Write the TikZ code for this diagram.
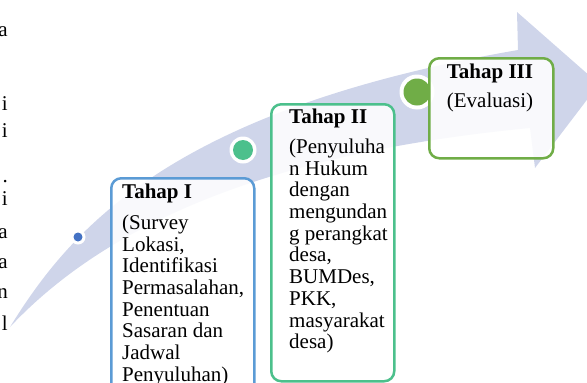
\documentclass[tikz,border=0pt]{standalone}
\usepackage{fontspec}
\setmainfont{Liberation Serif}
\usetikzlibrary{positioning}

\definecolor{bandfill}{HTML}{CFD5EA}
\definecolor{stageblue}{HTML}{5B9BD5}
\definecolor{stageteal}{HTML}{4CC08C}
\definecolor{stagegreen}{HTML}{70AD47}
\definecolor{dotblue}{HTML}{4472C4}

\begin{document}
\begin{tikzpicture}[x=1pt, y=-1pt,
		stagebox/.style={rectangle, rounded corners=10pt, line width=2.5pt, fill=white, fill opacity=0.88, text opacity=1, inner sep=0pt, anchor=north west},
		stagetext/.style={align=left, inner sep=0pt, font=\fontsize{21}{21.7}\selectfont},
		ringdot/.style={circle, fill=white, inner sep=0pt},
		stagedot/.style={circle, inner sep=0pt},
		fragment/.style={anchor=base east, inner sep=0pt, font=\fontsize{21}{21.7}\selectfont},
	]

	\useasboundingbox (0,0) rectangle (587,383);
	\clip (0,0) rectangle (587,383);

	% line ends of the cut-off paragraph on the left
	\foreach \y/\c [count=\i] in {36/a, 110/i, 137/i, 182/., 205/i, 238/a, 268/a, 298/n, 330/l}
		\node[fragment] (frag\i) at (8,\y) {\c};

	% curved band with arrow head
	\coordinate (tail) at (10,327);
	\fill[bandfill] (tail) .. controls (70,230) and (170,110) .. (518,50)
		-- (517,12) -- (599,84) -- (535,168) -- (530,128)
		.. controls (300,150) and (120,210) .. (tail) -- cycle;

	% markers on the band
	\node[ringdot, minimum size=15pt] (ring1) at (78,237) {};
	\node[stagedot, fill=dotblue, minimum size=9pt] (dot1) at (ring1) {};
	\node[ringdot, minimum size=27pt] (ring2) at (243,150) {};
	\node[stagedot, fill=stageteal, minimum size=20pt] (dot2) at (ring2) {};
	\node[ringdot, minimum size=35pt] (ring3) at (417,92) {};
	\node[stagedot, fill=stagegreen, minimum size=27pt] (dot3) at (ring3) {};

	% stages
	\node[stagebox, draw=stageblue, minimum width=143pt, minimum height=225pt] (box1) at (110,177) {};
	\node[stagetext, anchor=north west] (stage1) at (122,184) {\textbf{Tahap I}\\[9pt](Survey\\Lokasi,\\Identifikasi\\Permasalahan,\\Penentuan\\Sasaran dan\\Jadwal\\Penyuluhan)};

	\node[stagebox, draw=stageteal, minimum width=123pt, minimum height=277pt] (box2) at (270,103) {};
	\node[stagetext, anchor=north west] (stage2) at (289,109) {\textbf{Tahap II}\\[8pt](Penyuluha\\n Hukum\\dengan\\mengundan\\g perangkat\\desa,\\BUMDes,\\PKK,\\masyarakat\\desa)};

	\node[stagebox, draw=stagegreen, minimum width=124pt, minimum height=100pt] (box3) at (428,57) {};
	\node[stagetext, align=center, anchor=north] (stage3) at (490,64) {\textbf{Tahap III}\\[7pt](Evaluasi)};

\end{tikzpicture}
\end{document}
